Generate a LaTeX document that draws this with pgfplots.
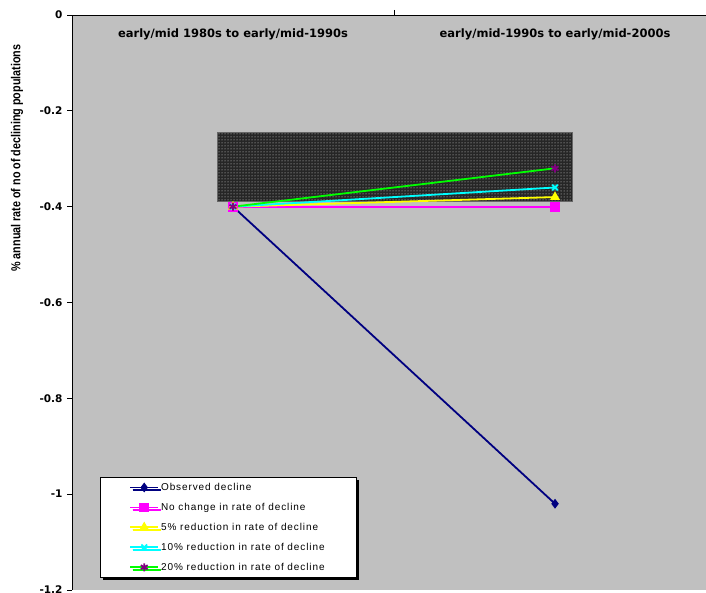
\documentclass[border=0pt]{standalone}
\usepackage{fontspec}
\setmainfont{Liberation Sans}
\newfontfamily\dvs{DejaVu Sans}
\newcommand\spacedbold{\dvs\bfseries}
\newcommand\lspaced{\addfontfeatures{LetterSpace=9}}
\usepackage{pgfplots}
\pgfplotsset{compat=1.18}
\usetikzlibrary{patterns,shadows}
\definecolor{plotgray}{RGB}{192,192,192}
\definecolor{navy}{RGB}{0,0,128}
\definecolor{mag}{RGB}{255,0,255}
\definecolor{yel}{RGB}{255,255,0}
\definecolor{cyn}{RGB}{0,255,255}
\definecolor{grn}{RGB}{0,255,0}
\definecolor{purp}{RGB}{128,0,128}
\begin{document}
\begin{tikzpicture}[x=1pt,y=1pt]
\useasboundingbox (0,0) rectangle (706,593);
\clip (0,0) rectangle (706,593);
\begin{axis}[
  at={(72pt,3pt)}, anchor=south west,
  scale only axis, width=644pt, height=575pt,
  xmin=-0.5, xmax=1.5, ymin=-1.2, ymax=0,
  axis x line=top, axis y line=left,
  axis line style={-,black,line width=0.8pt},
  axis background/.style={fill=plotgray},
  xtick={0.5}, xticklabels={},
  ytick={-1.2,-1,-0.8,-0.6,-0.4,-0.2,0},
  yticklabels={-1.2,-1,-0.8,-0.6,-0.4,-0.2,0},
  tick align=outside, major tick length=5pt,
  tick style={black, line width=0.8pt},
  y tick label style={font=\spacedbold\fontsize{10.5}{13}\selectfont, xshift=-1pt},
  ylabel={\scalebox{0.83}[1]{\% annual rate of no of declining populations}},
  ylabel style={font=\bfseries\fontsize{13}{15}\selectfont, at={(axis description cs:-0.0854,0.751)}, anchor=center},
  legend style={at={(rel axis cs:0.0435,0.021)}, anchor=south west, draw=black, fill=white, line width=0.6pt,
    font=\fontsize{10}{12}\selectfont\lspaced, row sep=7.2pt, inner ysep=4pt,
    drop shadow={shadow xshift=2.5pt,shadow yshift=-2.5pt,fill=black,opacity=1},
    cells={anchor=west}},
  legend image code/.code={\path (0pt,0pt); \draw[#1, mark repeat=2, mark phase=2] plot coordinates {(26pt,0pt) (40pt,0pt) (54pt,0pt)};},
]
\fill[black!85] (axis cs:-0.047,-0.246) rectangle (axis cs:1.053,-0.39);
\fill[pattern=dots, pattern color=white!75!gray] (axis cs:-0.047,-0.246) rectangle (axis cs:1.053,-0.39);
\draw[black!60, line width=0.8pt] (axis cs:-0.047,-0.246) rectangle (axis cs:1.053,-0.39);
\addplot[navy, line width=1.8pt, mark=diamond*, mark size=3.5pt] coordinates {(0,-0.4) (1,-1.02)};
\addplot[mag, line width=1.8pt, mark=square*, mark size=4pt] coordinates {(0,-0.4) (1,-0.4)};
\addplot[yel, line width=1.8pt, mark=triangle*, mark size=4pt] coordinates {(0,-0.4) (1,-0.38)};
\addplot[cyn, line width=1.8pt, mark=x, mark size=4pt] coordinates {(0,-0.4) (1,-0.36)};
\addplot[grn, line width=1.8pt, mark=asterisk, mark size=4pt, mark options={purp}] coordinates {(0,-0.4) (1,-0.32)};
\node[font=\spacedbold\fontsize{11.5}{13}\selectfont] at (axis cs:0,-0.04) {early/mid 1980s to early/mid-1990s};
\node[font=\spacedbold\fontsize{11.5}{13}\selectfont] at (axis cs:1,-0.04) {early/mid-1990s to early/mid-2000s};
\legend{\makebox[190pt][l]{Observed decline},No change in rate of decline,5\% reduction in rate of decline,10\% reduction in rate of decline,20\% reduction in rate of decline}
\end{axis}
\end{tikzpicture}
\end{document}
